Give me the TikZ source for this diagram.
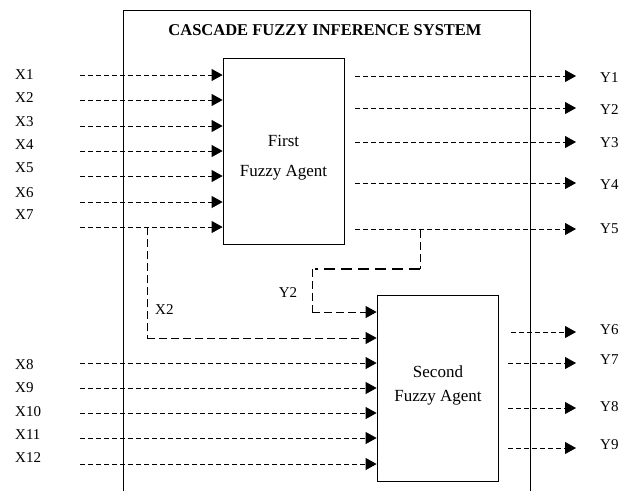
\documentclass[tikz,border=0pt]{standalone}
\usepackage{fontspec}
\setmainfont{Liberation Serif}
\usetikzlibrary{arrows.meta}
\begin{document}
\begin{tikzpicture}[x=1pt,y=-1pt,
  flow/.style={line width=0.8pt, dash pattern=on 5pt off 3pt, -{Triangle[length=11pt,width=12pt]}},
  fb/.style={line width=0.8pt, dash pattern=on 8pt off 4pt},
  fbthick/.style={line width=2.2pt, dash pattern=on 11pt off 6pt},
  lbl/.style={font=\fontsize{15}{17}\selectfont, inner sep=0pt},
  agent/.style={draw, line width=0.8pt, inner sep=0pt},
  agtext/.style={font=\fontsize{17}{24}\selectfont, align=center, inner sep=0pt},
]
\useasboundingbox (0,0) rectangle (628,491);
\draw[line width=0.8pt] (123,491) -- (123,10) -- (530,10) -- (530,491);
\node[font=\bfseries\fontsize{16.5}{18}\selectfont, inner sep=0pt] (title) at (325,30) {CASCADE FUZZY INFERENCE SYSTEM};
\node[agent, minimum width=121pt, minimum height=186pt] (a1) at (283.5,151) {};
\node[agtext, font=\fontsize{17}{30}\selectfont] (a1t) at (283.5,158) {First\\Fuzzy Agent};
\node[agent, minimum width=121pt, minimum height=186pt] (a2) at (437.5,388) {};
\node[agtext] (a2t) at (438,385) {Second\\Fuzzy Agent};
% inputs to first agent
\foreach \n/\ly/\ay in {1/75/75,2/98/100,3/122/126,4/145/151,5/168/176,6/193/202,7/215/227}{
  \node[lbl, anchor=west] (x\n) at (15,\ly) {X\n};
  \coordinate (xs\n) at (80,\ay);
  \draw[flow] (xs\n) -- (a1.west |- xs\n);
}
% inputs to second agent
\foreach \n/\ly/\ay in {8/365/363,9/388/388,10/412/413,11/435/438,12/458/464}{
  \node[lbl, anchor=west] (x\n) at (15,\ly) {X\n};
  \coordinate (xs\n) at (80,\ay);
  \draw[flow] (xs\n) -- (a2.west |- xs\n);
}
% outputs of first agent
\foreach \n/\ly/\ay in {1/78/76,2/110/108,3/143/142,4/185/183,5/229/229}{
  \node[lbl, anchor=west] (y\n) at (600,\ly) {Y\n};
  \coordinate (ys\n) at (355,\ay);
  \coordinate (ye\n) at (576,\ay);
  \draw[flow] (ys\n) -- (ye\n);
}
% outputs of second agent
\foreach \n/\ly/\ay/\sx in {6/330/332/511,7/360/363/508,8/407/408/508,9/445/448/508}{
  \node[lbl, anchor=west] (y\n) at (600,\ly) {Y\n};
  \coordinate (ys\n) at (\sx,\ay);
  \coordinate (ye\n) at (576,\ay);
  \draw[flow] (ys\n) -- (ye\n);
}
% X2 (from X7 line) branch to second agent
\coordinate (bx) at (147,227);
\coordinate (bxd) at (147,338);
\draw[fb] (bx) -- (bxd);
\draw[flow, dash pattern=on 8pt off 4pt] (bxd) -- (a2.west |- bxd);
\node[lbl, anchor=west] (x2b) at (155,310) {X2};
% Y5 branch (feedback as Y2) to second agent
\coordinate (by) at (420,230);
\coordinate (byd) at (420,269);
\coordinate (byl) at (312,269);
\coordinate (byb) at (312,312);
\draw[fb] (by) -- (byd);
\draw[fbthick] (byd) -- (315,269);
\draw[fb] (byl) -- (byb);
\draw[flow, dash pattern=on 8pt off 4pt] (byb) -- (a2.west |- byb);
\node[lbl] (y2b) at (288,293) {Y2};
\end{tikzpicture}
\end{document}
